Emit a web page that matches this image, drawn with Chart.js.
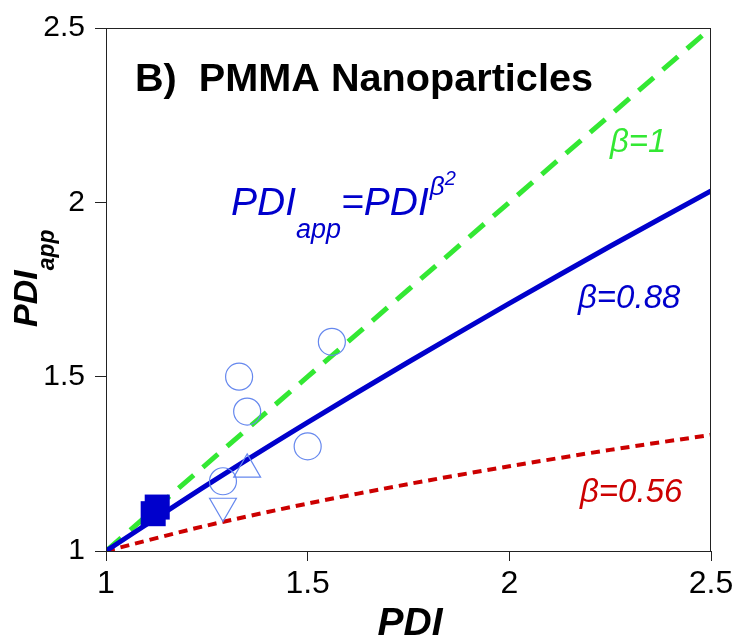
<!DOCTYPE html>
<html>
<head>
<meta charset="utf-8">
<script src="https://cdn.jsdelivr.net/npm/chart.js@4.4.1/dist/chart.umd.min.js"></script>
<style>
  html, body { margin: 0; padding: 0; background: #fff; }
  #wrap { width: 738px; height: 639px; position: relative; }
</style>
</head>
<body>
<div id="wrap"><canvas id="pdiChart"></canvas></div>
<script>
// curve samples
const curveX = [1, 1.25, 1.5, 1.75, 2, 2.25, 2.5];
const beta100 = [1, 1.25, 1.5, 1.75, 2, 2.25, 2.5];
const beta088 = [1, 1.189, 1.369, 1.542, 1.710, 1.874, 2.033];
const beta056 = [1, 1.073, 1.136, 1.192, 1.243, 1.290, 1.333];

// measured points
const circleX = [1.33, 1.35, 1.56, 1.5, 1.29];
const circleY = [1.5, 1.4, 1.6, 1.3, 1.2];
const triUpX = [1.35];
const triUpY = [1.234];
const triDownX = [1.29];
const triDownY = [1.129];
const squareX = [1.127, 1.117];
const squareY = [1.126, 1.107];

const xTicks = [1, 1.5, 2, 2.5];
const yTicks = [1, 1.5, 2, 2.5];

const pts = (xs, ys) => xs.map((x, i) => ({ x: x, y: ys[i] }));

Chart.defaults.font.family = "'Liberation Sans', Arial, sans-serif";
Chart.defaults.color = '#000';

const decor = {
  id: 'decor',
  afterDraw(chart) {
    const ctx = chart.ctx;
    const a = chart.chartArea;
    ctx.save();
    // frame
    ctx.strokeStyle = '#222';
    ctx.lineWidth = 1;
    ctx.strokeRect(a.left + 0.5, a.top + 0.5, a.right - a.left - 1, a.bottom - a.top);

    ctx.textBaseline = 'alphabetic';
    ctx.textAlign = 'left';
    const fam = "'Liberation Sans', Arial, sans-serif";

    // panel title, stretched to the width in the picture
    ctx.fillStyle = '#000';
    ctx.font = 'bold 38px ' + fam;
    const title = 'B)  PMMA Nanoparticles';
    const tw = ctx.measureText(title).width;
    ctx.save();
    ctx.translate(135, 91);
    ctx.scale(458 / tw, 1);
    ctx.fillText(title, 0, 0);
    ctx.restore();

    // formula
    ctx.fillStyle = '#0000cc';
    ctx.font = 'italic 39px ' + fam;
    ctx.fillText('PDI', 231, 215);
    let w = ctx.measureText('PDI').width;
    ctx.font = 'italic 27px ' + fam;
    ctx.fillText('app', 231 + w, 238);
    const w2 = ctx.measureText('app').width;
    ctx.font = 'italic 39px ' + fam;
    ctx.fillText('=PDI', 231 + w + w2, 215);
    const w3 = ctx.measureText('=PDI').width;
    ctx.font = 'italic 26px ' + fam;
    const bx = 231 + w + w2 + w3 + 1;
    ctx.fillText('\u03B2', bx, 195);
    const wb = ctx.measureText('\u03B2').width;
    ctx.font = 'italic 20px ' + fam;
    ctx.fillText('2', bx + wb, 185);

    // beta labels
    ctx.font = 'italic 33px ' + fam;
    ctx.fillStyle = '#33e833';
    ctx.fillText('\u03B2=1', 610, 152);
    ctx.fillStyle = '#0000cc';
    ctx.fillText('\u03B2=0.88', 578, 308);
    ctx.fillStyle = '#cc0000';
    ctx.fillText('\u03B2=0.56', 580, 502);

    // x axis title
    ctx.fillStyle = '#000';
    ctx.font = 'bold italic 39px ' + fam;
    ctx.textAlign = 'center';
    ctx.fillText('PDI', 410, 635);

    // y axis title, rotated
    ctx.translate(37, 327);
    ctx.rotate(-Math.PI / 2);
    ctx.textAlign = 'left';
    ctx.font = 'bold italic 34px ' + fam;
    ctx.fillText('PDI', 0, 0);
    const wy = ctx.measureText('PDI').width;
    ctx.font = 'bold italic 23px ' + fam;
    ctx.fillText('app', wy, 17);
    ctx.restore();
  }
};

new Chart(document.getElementById('pdiChart'), {
  type: 'scatter',
  data: {
    datasets: [
      {
        label: 'beta=1',
        data: pts(curveX, beta100),
        showLine: true,
        borderColor: '#33e833',
        borderWidth: 5,
        borderDash: [20, 12],
        pointRadius: 0,
        order: 5
      },
      {
        label: 'beta=0.88',
        data: pts(curveX, beta088),
        showLine: true,
        borderColor: '#0000cc',
        borderWidth: 5,
        tension: 0.3,
        pointRadius: 0,
        order: 4
      },
      {
        label: 'beta=0.56',
        data: pts(curveX, beta056),
        showLine: true,
        borderColor: '#cc0000',
        borderWidth: 4,
        borderDash: [9, 6],
        tension: 0.3,
        pointRadius: 0,
        order: 6
      },
      {
        label: 'circles',
        data: pts(circleX, circleY),
        pointStyle: 'circle',
        pointRadius: 13.5,
        pointBorderWidth: 1.2,
        pointBorderColor: '#6688ee',
        pointBackgroundColor: 'rgba(0,0,0,0)',
        order: 2
      },
      {
        label: 'up',
        data: pts(triUpX, triUpY),
        pointStyle: 'triangle',
        pointRadius: 15.5,
        pointBorderWidth: 1.2,
        pointBorderColor: '#6688ee',
        pointBackgroundColor: 'rgba(0,0,0,0)',
        order: 2
      },
      {
        label: 'down',
        data: pts(triDownX, triDownY),
        pointStyle: 'triangle',
        rotation: 180,
        pointRadius: 15.5,
        pointBorderWidth: 1.2,
        pointBorderColor: '#6688ee',
        pointBackgroundColor: 'rgba(0,0,0,0)',
        order: 2
      },
      {
        label: 'squares',
        data: pts(squareX, squareY),
        pointStyle: 'rect',
        pointRadius: 17.7,
        pointBorderWidth: 0,
        pointBackgroundColor: '#0000cc',
        order: 1
      }
    ]
  },
  options: {
    responsive: true,
    maintainAspectRatio: false,
    animation: false,
    layout: { padding: { top: 28, right: 27, left: 0, bottom: 0 } },
    plugins: {
      legend: { display: false },
      tooltip: { enabled: false }
    },
    scales: {
      x: {
        type: 'linear',
        min: 1,
        max: 2.5,
        afterBuildTicks: (s) => { s.ticks = xTicks.map(v => ({ value: v })); },
        afterFit: (s) => { s.height = 88; },
        ticks: { font: { size: 32 }, color: '#000', padding: 4, maxRotation: 0, callback: (v) => String(v) },
        grid: { drawOnChartArea: false, tickLength: 10, color: '#222' },
        border: { color: '#222', width: 1 }
      },
      y: {
        type: 'linear',
        min: 1,
        max: 2.5,
        afterBuildTicks: (s) => { s.ticks = yTicks.map(v => ({ value: v })); },
        afterFit: (s) => { s.width = 106; },
        ticks: { font: { size: 30 }, color: '#000', padding: 10, callback: (v) => String(v) },
        grid: { drawOnChartArea: false, tickLength: 11, color: '#222' },
        border: { color: '#222', width: 1 }
      }
    }
  },
  plugins: [decor]
});
</script>
</body>
</html>
